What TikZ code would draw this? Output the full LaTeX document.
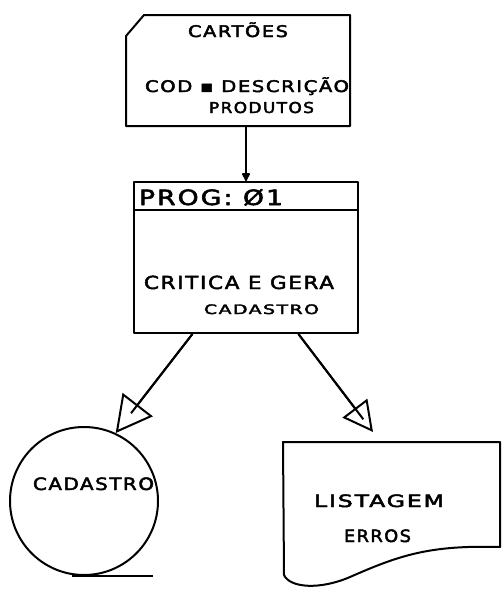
\documentclass[tikz,border=0pt]{standalone}
\usepackage{fontspec}
\usepackage{graphicx}
\newfontfamily\hand[LetterSpace=8,FakeBold=2.5]{DejaVu Sans}
\usetikzlibrary{arrows.meta,calc}
\newcommand\wfit[2]{\resizebox{#1}{\height}{#2}}
\begin{document}
\begin{tikzpicture}[x=1pt,y=1pt, line width=2pt, line join=round,
  lbl/.style={anchor=base west, inner sep=0pt, font=\hand},
  box/.style={minimum width=#1, inner sep=0pt},
  bigtri/.style={-{Triangle[open,length=36pt,width=38pt,line width=2pt]}},
  smalltri/.style={-{Triangle[open,length=30pt,width=31pt,line width=2pt]}}]
\useasboundingbox (0,0) rectangle (501,-589);
% card
\node[box=222pt, minimum height=109pt] (card) at (238,-70.5) {};
\draw ($(card.north west)+(18,0)$) -- (card.north east) -- (card.south east)
  -- (card.south west) -- ($(card.north west)+(0,-21)$) -- cycle;
\node[lbl] (tcart) at (187,-37) {\fontsize{16}{18}\selectfont\wfit{100pt}{CARTÕES}};
\node[lbl] (tcod) at (144,-92) {\fontsize{16}{18}\selectfont\wfit{204pt}{COD ▪ DESCRIÇÃO}};
\node[lbl] (tprod) at (208,-113) {\fontsize{15}{18}\selectfont\wfit{105pt}{PRODUTOS}};
% program box
\node[draw, box=224pt, minimum height=151pt] (prog) at (246,-257.5) {};
\draw ($(prog.north west)+(0,-29)$) -- ($(prog.north east)+(0,-29)$);
\node[lbl] (tprog) at (138,-205) {\fontsize{21}{22}\selectfont\wfit{144pt}{PROG: Ø1}};
\node[lbl] (tcrit) at (143,-289) {\fontsize{18}{20}\selectfont\wfit{190pt}{CRITICA E GERA}};
\node[lbl] (tcad1) at (203,-314) {\fontsize{13}{16}\selectfont\wfit{115pt}{CADASTRO}};
\draw[-{Latex[round,length=10pt,width=10pt]}] (card.south -| prog.north) -- (prog.north);
% cadastro circle
\node[draw, circle, minimum size=148pt, inner sep=0pt] (cad) at (84,-501) {};
\draw ($(cad.south)+(-12,0)$) -- ++(81,0);
\node[lbl] (tcad2) at (32,-490) {\fontsize{17}{18}\selectfont\wfit{121pt}{CADASTRO}};
% document
\coordinate (doc) at (283,-442);
\draw (doc) -- (500,-442) -- (500,-547)
  .. controls (430,-545) and (400,-555) .. (350,-577)
  .. controls (320,-590) and (290,-588) .. (284,-575) -- cycle;
\node[lbl] (tlist) at (313,-507) {\fontsize{17}{18}\selectfont\wfit{130pt}{LISTAGEM}};
\node[lbl] (terr) at (343,-542) {\fontsize{17}{18}\selectfont\wfit{67pt}{ERROS}};
% connectors
\coordinate (s1) at ($(prog.south west)!0.263!(prog.south east)$);
\coordinate (s2) at ($(prog.south west)!0.732!(prog.south east)$);
\coordinate (t2) at (373,-432);
\draw[bigtri] (s1) -- (cad.65);
\draw (s1) -- ($(s1)!0.8!(cad.65)$);
\draw[smalltri] (s2) -- (t2);
\draw (s2) -- ($(s2)!0.87!(t2)$);
\end{tikzpicture}
\end{document}
